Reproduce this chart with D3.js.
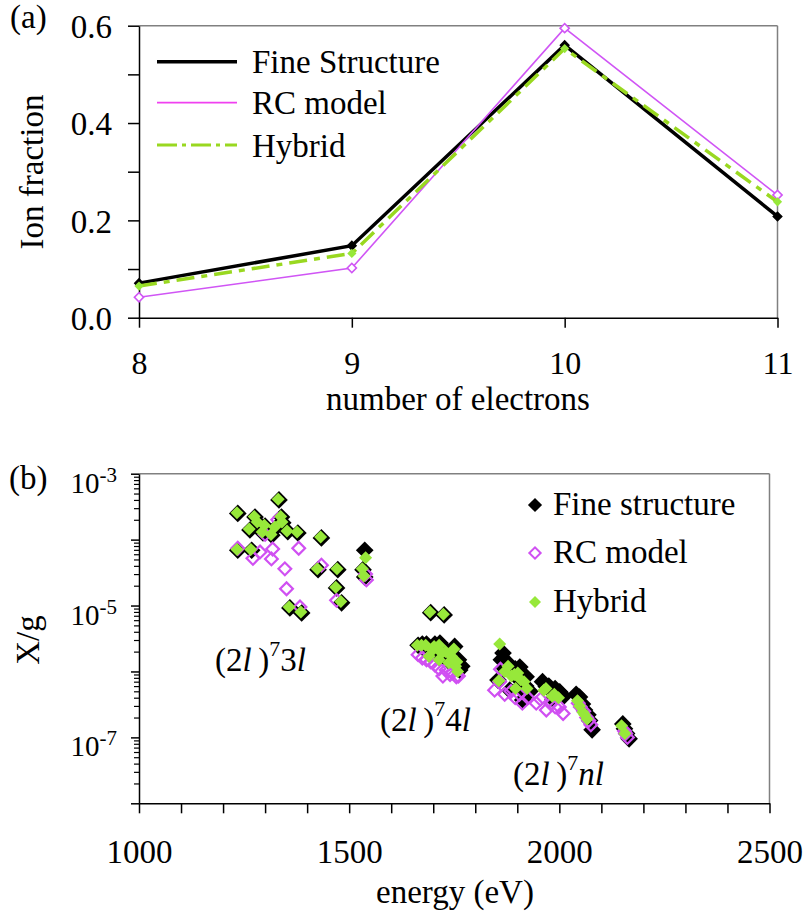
<!DOCTYPE html>
<html><head><meta charset="utf-8">
<script src="https://cdn.jsdelivr.net/npm/d3@7"></script>
<style>body{margin:0;background:#fff}svg{display:block}</style>
</head><body>
<svg id="c" width="804" height="917"></svg>
<script>
// ---- Panel (a) data ----
const electrons = [8, 9, 10, 11];
const fineStructure = [0.071, 0.148, 0.560, 0.208];
const rcModel = [0.042, 0.102, 0.595, 0.252];
const hybrid = [0.065, 0.132, 0.553, 0.238];
const yTicksA = [0, 0.1, 0.2, 0.3, 0.4, 0.5, 0.6];
const yLabelsA = ["0.0", "", "0.2", "", "0.4", "", "0.6"];
const legendA = ["Fine Structure", "RC model", "Hybrid"];

// ---- Panel (b) data ----
const fineE = [1333,1235,1276,1283,1339,1342,1264,1295,1316,1354,1378,1434,1235,1268,1537,1533,1537,1426,1473,1470,1482,1359,1387,1300,1325,
  1694,1726,1664,1684,1704,1716,1731,1751,1692,1716,1739,1755,1763,1674,1700,1722,1745,1760,1768,
  1866,1854,1870,1890,1906,1921,1906,1882,1913,1969,2001,1985,2048,2060,2072,2078,2151,2160,2166,
  1862,1880,1895,1900,1920,1930,1960,1975,1990,2010,2040,2055,2068,2155];
const fineX = [4.0e-4,2.5e-4,2.2e-4,1.8e-4,2.2e-4,1.8e-4,1.4e-4,1.26e-4,1.17e-4,1.32e-4,1.26e-4,1.06e-4,6.9e-5,6.9e-5,6.9e-5,3.5e-5,2.7e-5,3.5e-5,3.5e-5,1.85e-5,1.1e-5,9.2e-6,7.7e-6,1.6e-4,1.5e-4,
  7.8e-6,7.2e-6,2.5e-6,2.6e-6,2.6e-6,2.7e-6,2.1e-6,2.4e-6,1.8e-6,1.6e-6,1.4e-6,1.25e-6,1.05e-6,2.6e-6,2.2e-6,2.0e-6,1.8e-6,1.5e-6,1.2e-6,
  1.9e-6,7.4e-7,1.1e-6,1.0e-6,1.17e-6,8.3e-7,5.9e-7,5.2e-7,3.7e-7,5.9e-7,4.9e-7,3.8e-7,4.1e-7,2.6e-7,1.8e-7,1.3e-7,1.6e-7,1.15e-7,9.5e-8,
  1.5e-6,1.3e-6,1.1e-6,8.0e-7,6.0e-7,5.0e-7,7.0e-7,6.0e-7,5.5e-7,4.2e-7,4.5e-7,3.2e-7,2.2e-7,1.35e-7];
const rcE = [1235,1271,1288,1318,1315,1347,1351,1380,1383,1434,1470,1541,1539,1300,1330,
  1664,1684,1704,1723,1755,1731,1745,1674,1694,1714,1740,1760,
  1860,1846,1870,1895,1912,1945,1969,1990,2009,2050,2065,2075,2155,2162,
  1858,1885,1905,1925,1955,1980,2000,2045,2058,2070,2158];
const rcX = [7.4e-5,5.2e-5,6.5e-5,7.2e-5,5.1e-5,3.6e-5,1.8e-5,7.4e-5,9.5e-6,4.1e-5,1.2e-5,2.45e-5,3.0e-5,1.2e-4,2.0e-4,
  1.8e-6,1.5e-6,1.25e-6,8.5e-7,8.3e-7,1.05e-6,9.5e-7,1.6e-6,1.4e-6,1.1e-6,9.0e-7,8.5e-7,
  1.08e-6,5.2e-7,4.5e-7,4.0e-7,3.3e-7,3.3e-7,2.6e-7,2.9e-7,2.3e-7,2.9e-7,2.0e-7,1.55e-7,1.25e-7,1.0e-7,
  7.0e-7,5.0e-7,4.5e-7,4.0e-7,3.8e-7,3.2e-7,2.9e-7,3.3e-7,2.5e-7,1.8e-7,1.15e-7];
const hybE = [1333,1235,1276,1283,1339,1342,1264,1295,1316,1354,1378,1434,1235,1268,1541,1533,1537,1426,1473,1470,1482,1359,1387,1300,1325,
  1694,1726,1664,1684,1704,1716,1731,1751,1692,1716,1739,1755,1760,1674,1700,1722,1745,1758,
  1860,1858,1872,1888,1903,1918,1898,1965,1985,2045,2058,2068,2150,2158,
  1880,1895,1910,1925,1970,1990,2000,2050,2062];
const hybX = [4.1e-4,2.55e-4,2.25e-4,1.85e-4,2.25e-4,1.85e-4,1.45e-4,1.3e-4,1.2e-4,1.35e-4,1.3e-4,1.1e-4,7.1e-5,7.1e-5,5.3e-5,3.6e-5,2.8e-5,3.6e-5,3.6e-5,1.9e-5,1.15e-5,9.5e-6,8.0e-6,1.65e-4,1.55e-4,
  8.0e-6,7.4e-6,2.5e-6,2.5e-6,2.4e-6,2.5e-6,2.0e-6,2.2e-6,1.7e-6,1.5e-6,1.35e-6,1.2e-6,1.0e-6,2.5e-6,2.1e-6,1.9e-6,1.7e-6,1.4e-6,
  2.6e-6,7.2e-7,1.0e-6,8.5e-7,9.5e-7,7.0e-7,5.5e-7,5.2e-7,4.2e-7,3.6e-7,2.4e-7,1.9e-7,1.5e-7,1.15e-7,
  1.2e-6,9.0e-7,7.5e-7,5.5e-7,5.5e-7,4.5e-7,4.0e-7,3.0e-7,2.2e-7];
const yMajorB = [1e-8,1e-7,1e-6,1e-5,1e-4,1e-3];
const yLabelExpB = {"-3":true,"-5":true,"-7":true};
const xTicksB = d3.range(1000, 2501, 100);
const xLabelsB = [1000, 1500, 2000, 2500];
const legendB = ["Fine structure", "RC model", "Hybrid"];

const FONT = "'Liberation Serif', 'Times New Roman', Times, 'DejaVu Serif', serif";
const svg = d3.select("#c").attr("font-family", FONT).style("font-family", FONT);
const BLACK = "#000", RCLINE = "#d055f5", RCLEG = "#f040f0", GRN = "#97e83a", GRNLINE = "#99d820", GRAY = "#808080";
const FS = 33;
function ff(sel) { return sel.attr("font-family", FONT).style("font-family", FONT).attr("fill", "#000"); }

// ================= Panel (a) =================
const xA = d3.scaleLinear().domain([8, 11]).range([139, 777.5]);
const yA = d3.scaleLinear().domain([0, 0.6]).range([317.7, 25.7]);
const gA = svg.append("g");
gA.append("line").attr("x1", xA(8)).attr("x2", xA(11)).attr("y1", yA(0.6)).attr("y2", yA(0.6)).attr("stroke", GRAY).attr("stroke-width", 1.5);
gA.append("line").attr("x1", xA(11)).attr("x2", xA(11)).attr("y1", yA(0.6)).attr("y2", yA(0)).attr("stroke", GRAY).attr("stroke-width", 1.5);

const axLA = gA.append("g").attr("transform", `translate(${xA(8)},0)`)
  .call(d3.axisLeft(yA).tickValues(yTicksA).tickFormat((d, i) => yLabelsA[i]).tickSize(11).tickSizeOuter(0));
ff(axLA);
axLA.select(".domain").attr("stroke-width", 1.5);
axLA.selectAll("line").attr("stroke-width", 1.5);
ff(axLA.selectAll("text")).attr("font-size", FS).attr("x", -27).attr("dy", "0.36em");

const axBA = gA.append("g").attr("transform", `translate(0,${yA(0)})`)
  .call(d3.axisBottom(xA).tickValues(electrons).tickFormat(d3.format("d")).tickSize(10).tickSizeOuter(0));
ff(axBA);
axBA.select(".domain").attr("stroke-width", 1.5);
axBA.selectAll("line").attr("stroke-width", 1.5);
ff(axBA.selectAll("text")).attr("font-size", 32).attr("y", 56.5).attr("dy", 0);

ff(gA.append("text")).attr("x", 458).attr("y", 410).attr("text-anchor", "middle").attr("font-size", FS).text("number of electrons");
ff(gA.append("text")).attr("transform", "translate(43,172) rotate(-90)").attr("text-anchor", "middle").attr("font-size", FS).text("Ion fraction");
ff(gA.append("text")).attr("x", 10).attr("y", 28).attr("font-size", FS).text("(a)");

const lineA = d3.line().x((d, i) => xA(electrons[i])).y(d => yA(d));
const sq = (s) => d3.symbol(d3.symbolSquare, s * s)();
gA.append("path").attr("d", lineA(fineStructure)).attr("fill", "none").attr("stroke", BLACK).attr("stroke-width", 3.5);
gA.selectAll(".mfs").data(fineStructure).join("path").attr("d", sq(6))
  .attr("transform", (d, i) => `translate(${xA(electrons[i])},${yA(d)}) rotate(45)`).attr("fill", BLACK).attr("stroke", BLACK).attr("stroke-width", 1.5);
gA.append("path").attr("d", lineA(rcModel)).attr("fill", "none").attr("stroke", RCLINE).attr("stroke-width", 1.6);
gA.selectAll(".mrc").data(rcModel).join("path").attr("d", sq(6.5))
  .attr("transform", (d, i) => `translate(${xA(electrons[i])},${yA(d)}) rotate(45)`).attr("fill", "#fff").attr("stroke", RCLINE).attr("stroke-width", 1.6);
gA.append("path").attr("d", lineA(hybrid)).attr("fill", "none").attr("stroke", GRNLINE).attr("stroke-width", 3.5).attr("stroke-dasharray", "18,7,6,7");
gA.selectAll(".mhy").data(hybrid).join("path").attr("d", sq(6.5))
  .attr("transform", (d, i) => `translate(${xA(electrons[i])},${yA(d)}) rotate(45)`).attr("fill", GRN);

const legYA = [61.7, 102.7, 145];
const legStyles = [
  {c: BLACK, w: 3.5, dash: null},
  {c: RCLEG, w: 1.8, dash: null},
  {c: GRNLINE, w: 3, dash: "20,5,4,5"}
];
legendA.forEach((t, i) => {
  const l = gA.append("line").attr("x1", 157).attr("x2", 237).attr("y1", legYA[i]).attr("y2", legYA[i])
    .attr("stroke", legStyles[i].c).attr("stroke-width", legStyles[i].w);
  if (legStyles[i].dash) l.attr("stroke-dasharray", legStyles[i].dash);
  ff(gA.append("text")).attr("x", 252).attr("y", legYA[i] + 11.6).attr("font-size", FS).text(t);
});

// ================= Panel (b) =================
const xB = d3.scaleLinear().domain([1000, 2500]).range([139, 769.5]);
const yB = d3.scaleLog().domain([1e-8, 1e-3]).range([803.3, 473.7]);
const gB = svg.append("g");
gB.append("line").attr("x1", xB(1000)).attr("x2", xB(2500)).attr("y1", yB(1e-3)).attr("y2", yB(1e-3)).attr("stroke", GRAY).attr("stroke-width", 1.5);
gB.append("line").attr("x1", xB(2500)).attr("x2", xB(2500)).attr("y1", yB(1e-3)).attr("y2", yB(1e-8)).attr("stroke", GRAY).attr("stroke-width", 1.5);

const minorB = [];
for (let e = -8; e < -3; e++) for (let m = 2; m <= 9; m++) minorB.push(m * Math.pow(10, e));
const axLB = gB.append("g").attr("transform", `translate(${xB(1000)},0)`)
  .call(d3.axisLeft(yB).tickValues(yMajorB).tickFormat("").tickSize(8).tickSizeOuter(0));
axLB.select(".domain").attr("stroke-width", 1.5);
axLB.selectAll("line").attr("stroke-width", 1.5);
gB.append("g").attr("transform", `translate(${xB(1000)},0)`)
  .call(d3.axisLeft(yB).tickValues(minorB).tickFormat("").tickSize(5).tickSizeOuter(0))
  .call(g => g.select(".domain").remove())
  .selectAll("line").attr("stroke-width", 1.2);
yMajorB.forEach(v => {
  const e = Math.round(Math.log10(v));
  if (!yLabelExpB[String(e)]) return;
  const t = ff(gB.append("text")).attr("x", 117).attr("y", yB(v) + 19).attr("text-anchor", "end").attr("font-size", 29);
  t.append("tspan").text("10");
  t.append("tspan").attr("font-size", 21).attr("dy", -11).text(String(e));
});

const axBB = gB.append("g").attr("transform", `translate(0,${yB(1e-8)})`)
  .call(d3.axisBottom(xB).tickValues(xTicksB).tickFormat(d => xLabelsB.includes(d) ? d : "").tickSize(10).tickSizeOuter(0));
ff(axBB);
axBB.select(".domain").attr("stroke-width", 1.5);
axBB.selectAll("line").attr("stroke-width", 1.5);
ff(axBB.selectAll("text")).attr("font-size", FS).attr("y", 60).attr("dy", 0);

ff(gB.append("text")).attr("x", 455).attr("y", 903).attr("text-anchor", "middle").attr("font-size", FS).text("energy (eV)");
ff(gB.append("text")).attr("transform", "translate(39,640) rotate(-90)").attr("text-anchor", "middle").attr("font-size", FS).text("X/g");
ff(gB.append("text")).attr("x", 9).attr("y", 489).attr("font-size", FS).text("(b)");

gB.selectAll(".sfs").data(fineE).join("path").attr("d", sq(12.5))
  .attr("transform", (d, i) => `translate(${xB(d)},${yB(fineX[i])}) rotate(45)`).attr("fill", BLACK);
gB.selectAll(".src").data(rcE).join("path").attr("d", sq(9))
  .attr("transform", (d, i) => `translate(${xB(d)},${yB(rcX[i])}) rotate(45)`).attr("fill", "none").attr("stroke", "#d050f2").attr("stroke-width", 2.2);
gB.selectAll(".shy").data(hybE).join("path").attr("d", sq(9.2))
  .attr("transform", (d, i) => `translate(${xB(d) - 0.8},${yB(hybX[i])}) rotate(45)`).attr("fill", GRN);

function cl(x, y, n) {
  const t = ff(gB.append("text")).attr("x", x).attr("y", y).attr("font-size", FS);
  t.append("tspan").text("(2");
  t.append("tspan").attr("font-style", "italic").text("l");
  t.append("tspan").text("\u2009)");
  t.append("tspan").attr("font-size", 22).attr("dy", -15).text("7");
  if (n === "n") {
    t.append("tspan").attr("dy", 15).attr("font-style", "italic").text("nl");
  } else {
    t.append("tspan").attr("dy", 15).text(n);
    t.append("tspan").attr("font-style", "italic").text("l");
  }
}
cl(215, 671, "3");
cl(380, 731, "4");
cl(513, 785, "n");

const legYB = [505, 553, 602];
legendB.forEach((t, i) => {
  const p = gB.append("path").attr("transform", `translate(535,${legYB[i]}) rotate(45)`);
  if (i === 0) p.attr("d", sq(10)).attr("fill", BLACK);
  if (i === 1) p.attr("d", sq(8)).attr("fill", "none").attr("stroke", "#d050f2").attr("stroke-width", 2);
  if (i === 2) p.attr("d", sq(8.5)).attr("fill", GRN);
  ff(gB.append("text")).attr("x", 553).attr("y", legYB[i] + 10).attr("font-size", FS).text(t);
});
</script>
</body></html>
